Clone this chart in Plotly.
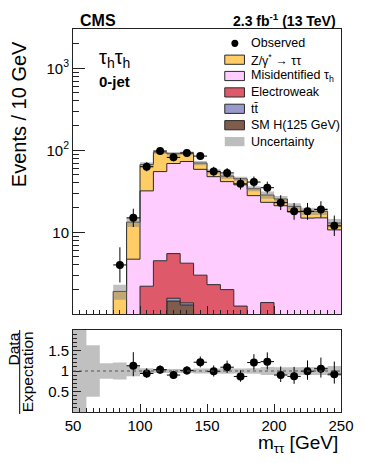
import numpy as np
import plotly.graph_objects as go

# ---------------- data (events / 10 GeV) ----------------
edges = list(range(50, 260, 10))          # bin edges 50 ... 250 GeV
sm_h = [0, 0, 0, 0, 0.02, 0.3, 0.8, 1.45, 1.3, 0.5, 0.2, 0.1, 0.05, 0.03, 0.02, 0.01, 0.01, 0, 0, 0]
ttbar = [0, 0, 0, 0, 0.01, 0.05, 0.05, 0.12, 0.08, 0.08, 0.08, 0.07, 0.07, 0.06, 0.06, 0.05, 0.05, 0.05, 0.04, 0.04]
ewk = [0, 0, 0, 0.05, 0.27, 1.85, 3.65, 3.93, 2.82, 2.42, 2.02, 1.83, 1.14, 0.81, 1.31, 0.74, 0.64, 0.55, 0.56, 0.46]
misid = [0, 0.05, 0.1, 0.45, 4.4, 29.8, 50.5, 63.5, 68.8, 55.6, 45.4, 39.5, 36.7, 27.1, 21.8, 20.3, 17.0, 14.3, 14.4, 10.2]
ztt = [0.08, 0.25, 0.5, 1.4, 8.6, 35, 40, 22, 19, 11.4, 7.8, 7.0, 7.0, 6.0, 5.3, 4.4, 3.0, 3.2, 3.0, 2.3]
observed = [0, 0, 0, 4, 15, 63, 98, 82, 93, 85, 55, 53, 39, 41, 35, 23, 18, 18, 19, 12]
rel_unc = [1.2, 0.63, 0.19, 0.21, 0.13, 0.07, 0.05, 0.05, 0.05, 0.06, 0.06, 0.07, 0.06, 0.07, 0.10, 0.09, 0.09, 0.10, 0.10, 0.12]

y_ticks = [10, 100, 1000]
y_ticktext = ["10", "10<sup>2</sup>", "10<sup>3</sup>"]
x_ticks = [50, 100, 150, 200, 250]
r_ticks = [0.5, 1, 1.5]
r_ticktext = ["0.5", "1", "1.5"]

legend_entries = [
    ("Z/γ<sup>*</sup> → ττ", "#ffcc66", True),
    ("Misidentified τ<sub>h</sub>", "#ffccff", True),
    ("Electroweak", "#de5a6a", True),
    ("tt\u0304", "#9999cc", True),
    ("SM H(125 GeV)", "#7f5c4c", True),
    ("Uncertainty", "#bdbdbd", False),
]

# ---------------- layout geometry (window pixels) ----------------
WIN_W, WIN_H = 366, 463
L, R, T, B = 73, 352, 29, 412
PW, PH = R - L, B - T
FONT = "Liberation Sans, Arial, Helvetica, sans-serif"
OUTLINE = "#2a2a2a"
UNC_FILL = "rgba(130,130,130,0.5)"


def xp(px):
    return (px - L) / PW


def yp(py):
    return (B - py) / PH


main_bottom = 314.3
ratio_top = 330

# ---------------- computations ----------------
floor = 1e-3
centers = [(a + b) / 2 for a, b in zip(edges[:-1], edges[1:])]
stack_order = [("SM H", sm_h, "#7f5c4c"), ("ttbar", ttbar, "#9999cc"),
               ("EWK", ewk, "#de5a6a"), ("Misid", misid, "#ffccff"),
               ("ZTT", ztt, "#ffcc66")]
cum = np.zeros(len(centers))
cums = []
for name, vals, col in stack_order:
    cum = cum + np.array(vals, dtype=float)
    cums.append((name, cum.copy(), col))
total = cum
obs = np.array(observed, dtype=float)
runc = np.array(rel_unc)


def step_y(vals):
    v = list(np.maximum(vals, floor))
    return v + [v[-1]]


fig = go.Figure()

# baseline for fills
fig.add_trace(go.Scatter(x=edges, y=step_y(np.zeros(len(centers))), mode="lines",
                         line=dict(width=0, shape="hv"), hoverinfo="skip", showlegend=False,
                         xaxis="x", yaxis="y"))
for name, c, col in cums:
    fig.add_trace(go.Scatter(x=edges, y=step_y(c), mode="lines", name=name,
                             line=dict(color=OUTLINE, width=1, shape="hv"),
                             fill="tonexty", fillcolor=col, showlegend=False,
                             xaxis="x", yaxis="y"))

# uncertainty band (main)
fig.add_trace(go.Scatter(x=edges, y=step_y(total * (1 - np.minimum(runc, 0.999))), mode="lines",
                         line=dict(width=0, shape="hv"), showlegend=False, hoverinfo="skip",
                         xaxis="x", yaxis="y"))
fig.add_trace(go.Scatter(x=edges, y=step_y(total * (1 + runc)), mode="lines",
                         line=dict(width=0, shape="hv"), fill="tonexty", fillcolor=UNC_FILL,
                         showlegend=False, hoverinfo="skip", xaxis="x", yaxis="y"))

# observed data with Poisson-like errors
up = obs + 0.5 + np.sqrt(obs + 0.25) - obs
dn = obs - (obs + 0.5 - np.sqrt(obs + 0.25))
mask = obs > 0
fig.add_trace(go.Scatter(x=np.array(centers)[mask], y=obs[mask], mode="markers",
                         marker=dict(color="black", size=8),
                         error_y=dict(type="data", array=up[mask], arrayminus=dn[mask],
                                      color="black", thickness=1, width=0),
                         error_x=dict(type="constant", value=5, color="black", thickness=1, width=0),
                         showlegend=False, xaxis="x", yaxis="y"))

# ---------------- ratio panel ----------------
fig.add_trace(go.Scatter(x=edges, y=list(1 - runc) + [1 - runc[-1]], mode="lines",
                         line=dict(width=0, shape="hv"), showlegend=False, hoverinfo="skip",
                         xaxis="x2", yaxis="y2"))
fig.add_trace(go.Scatter(x=edges, y=list(1 + runc) + [1 + runc[-1]], mode="lines",
                         line=dict(width=0, shape="hv"), fill="tonexty", fillcolor=UNC_FILL,
                         showlegend=False, hoverinfo="skip", xaxis="x2", yaxis="y2"))
ratio = obs / total
rmask = mask & (ratio < 2)
fig.add_trace(go.Scatter(x=np.array(centers)[rmask], y=ratio[rmask], mode="markers",
                         marker=dict(color="black", size=8),
                         error_y=dict(type="data", array=(up / total)[rmask],
                                      arrayminus=(dn / total)[rmask],
                                      color="black", thickness=1, width=0),
                         error_x=dict(type="constant", value=5, color="black", thickness=1, width=0),
                         showlegend=False, xaxis="x2", yaxis="y2"))

# ---------------- axes ----------------
axis_common = dict(showline=True, linecolor="#222", linewidth=1, mirror=True,
                   showgrid=False, zeroline=False, ticks="inside", tickcolor="#222",
                   tickfont=dict(family=FONT, size=15, color="black"))

main_dom = [yp(main_bottom), 1]
ratio_dom = [0, yp(ratio_top)]
log_top = 3 + (main_bottom - 3 * 82 - T) / 82

minor_log = [m * 10 ** e for e in range(0, 4) for m in range(2, 10) if m * 10 ** e < 3000]

fig.update_layout(
    width=WIN_W, height=WIN_H,
    margin=dict(l=L, r=WIN_W - R, t=T, b=WIN_H - B, pad=0),
    paper_bgcolor="white", plot_bgcolor="white",
    font=dict(family=FONT, size=15, color="black"),
    showlegend=False,
    hovermode=False,
    xaxis=dict(axis_common, range=[50, 250], anchor="y", showticklabels=False,
               tickvals=x_ticks, ticklen=8,
               minor=dict(dtick=5, tick0=50, ticks="inside", ticklen=4, tickcolor="#222")),
    yaxis=dict(axis_common, type="log", range=[0, log_top], domain=main_dom, anchor="x",
               tickvals=y_ticks, ticktext=y_ticktext, ticklen=12,
               minor=dict(tickvals=minor_log, ticks="inside", ticklen=6, tickcolor="#222")),
    xaxis2=dict(axis_common, range=[50, 250], anchor="y2", matches="x",
                tickvals=x_ticks, ticklen=8,
                minor=dict(dtick=5, tick0=50, ticks="inside", ticklen=4, tickcolor="#222")),
    yaxis2=dict(axis_common, range=[0, 2], domain=ratio_dom, anchor="x2",
                tickvals=r_ticks, ticktext=r_ticktext, ticklen=8,
                minor=dict(dtick=0.1, tick0=0, ticks="inside", ticklen=4, tickcolor="#222")),
)

fig.add_shape(type="line", xref="x2", yref="y2", x0=50, x1=250, y0=1, y1=1,
              line=dict(color="#555", width=1, dash="dot"))

# ---------------- text ----------------
ann = []
ann.append(dict(text="<b>CMS</b>", x=xp(78), y=yp(20), xanchor="left", yanchor="middle",
                font=dict(family=FONT, size=16, color="black")))
ann.append(dict(text="<b>2.3 fb<sup>-1</sup> (13 TeV)</b>", x=xp(349), y=yp(20),
                xanchor="right", yanchor="middle", font=dict(family=FONT, size=14, color="black")))
ann.append(dict(text="τ<sub>h</sub>τ<sub>h</sub>", x=xp(98), y=yp(58), xanchor="left",
                yanchor="middle", font=dict(family=FONT, size=20, color="black")))
ann.append(dict(text="<b>0-jet</b>", x=xp(98), y=yp(81), xanchor="left", yanchor="middle",
                font=dict(family=FONT, size=15, color="black")))
ann.append(dict(text="Events / 10 GeV", x=xp(17), y=yp(114), textangle=-90,
                xanchor="center", yanchor="middle", font=dict(family=FONT, size=20, color="black")))
ann.append(dict(text="Data", x=xp(11), y=yp(349), textangle=-90, xanchor="center",
                yanchor="middle", font=dict(family=FONT, size=15.5, color="black")))
ann.append(dict(text="Expectation", x=xp(25.5), y=yp(372), textangle=-90, xanchor="center",
                yanchor="middle", font=dict(family=FONT, size=15.5, color="black")))
ann.append(dict(text="m<sub>ττ</sub> [GeV]", x=xp(351), y=yp(444), xanchor="right",
                yanchor="middle", font=dict(family=FONT, size=19, color="black")))

# legend (drawn manually)
leg_y = [43.3, 59.7, 76.0, 92.4, 108.8, 125.2, 141.6]
ann.append(dict(text="Observed", x=xp(256), y=yp(leg_y[0]), xanchor="left", yanchor="middle",
                font=dict(family=FONT, size=12.5, color="black")))
fig.add_shape(type="circle", xref="paper", yref="paper",
              x0=xp(241.5 - 3.6), x1=xp(241.5 + 3.6), y0=yp(leg_y[0] + 3.6), y1=yp(leg_y[0] - 3.6),
              fillcolor="black", line=dict(color="black", width=0))
for (label, col, outl), yy in zip(legend_entries, leg_y[1:]):
    fig.add_shape(type="rect", xref="paper", yref="paper",
                  x0=xp(231), x1=xp(251.5), y0=yp(yy + 4.6), y1=yp(yy - 4.6),
                  fillcolor=col, line=dict(color=OUTLINE if outl else col, width=1 if outl else 0))
    ann.append(dict(text=label, x=xp(256), y=yp(yy), xanchor="left", yanchor="middle",
                    font=dict(family=FONT, size=12.5, color="black")))

for a in ann:
    a.update(xref="paper", yref="paper", showarrow=False)
fig.update_layout(annotations=ann)

# fraction bar of the ratio title
fig.add_shape(type="line", xref="paper", yref="paper", x0=xp(17.5), x1=xp(17.5),
              y0=yp(330), y1=yp(414), line=dict(color="black", width=1))

fig.write_html("out.html", config={"displayModeBar": False},
               post_script="document.body.style.margin='0';document.body.style.overflow='hidden';")
